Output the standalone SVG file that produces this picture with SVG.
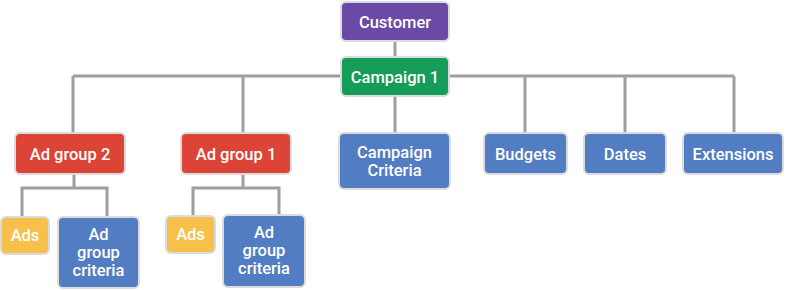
<svg xmlns="http://www.w3.org/2000/svg" width="785" height="290" viewBox="0 0 785 290">
<style>
.b{stroke:#dcdcdc;stroke-width:2}
.p{fill:#6a4aa5}.g{fill:#159c59}.r{fill:#dc4437}.u{fill:#527dc3}.y{fill:#f6c04b}
text{font-family:Roboto,"Liberation Sans",sans-serif;font-weight:500;font-size:16.5px;fill:#fff;text-anchor:middle;dominant-baseline:central}
.c line,.c polyline{stroke:#9e9e9e;stroke-width:3;fill:none}
</style>
<rect width="785" height="290" fill="#fff"/>
<g class="c" id="connectors">
<line x1="395" y1="41" x2="395" y2="57"/>
<line x1="73" y1="76" x2="734" y2="76"/>
<line x1="73" y1="76" x2="73" y2="133"/>
<line x1="243" y1="76" x2="243" y2="133"/>
<line x1="395" y1="96" x2="395" y2="133"/>
<line x1="525" y1="76" x2="525" y2="133"/>
<line x1="625" y1="76" x2="625" y2="133"/>
<line x1="734" y1="76" x2="734" y2="133"/>
<line x1="74" y1="174" x2="74" y2="188"/>
<polyline points="22,217 22,188 107,188 107,216"/>
<line x1="243" y1="174" x2="243" y2="188"/>
<polyline points="193,216 193,188 279,188 279,215"/>
</g>
<g id="customer"><rect class="b p" x="341" y="2" width="108" height="39" rx="5"/><text x="395" y="22">Customer</text></g>
<g id="campaign1"><rect class="b g" x="341" y="57" width="108" height="39" rx="5"/><text x="395" y="77">Campaign 1</text></g>
<g id="adgroup2"><rect class="b r" x="15" y="133" width="110" height="41" rx="5"/><text x="70" y="154">Ad group 2</text></g>
<g id="adgroup1"><rect class="b r" x="181" y="133" width="110" height="41" rx="5"/><text x="236" y="154">Ad group 1</text></g>
<g id="campaigncriteria"><rect class="b u" x="339" y="133" width="111" height="56" rx="5"/><text x="394.5" y="152">Campaign</text><text x="394.5" y="170">Criteria</text></g>
<g id="budgets"><rect class="b u" x="484" y="133" width="83" height="41" rx="5"/><text x="525.5" y="154">Budgets</text></g>
<g id="dates"><rect class="b u" x="584" y="133" width="82" height="41" rx="5"/><text x="625" y="154">Dates</text></g>
<g id="extensions"><rect class="b u" x="683" y="133" width="100" height="41" rx="5"/><text x="733" y="154">Extensions</text></g>
<g id="ads2"><rect class="b y" x="1" y="217" width="48" height="37" rx="5"/><text x="25" y="235.5">Ads</text></g>
<g id="adgroupcriteria2"><rect class="b u" x="58" y="217" width="81" height="71" rx="5"/><text x="98.5" y="234">Ad</text><text x="98.5" y="252">group</text><text x="98.5" y="270">criteria</text></g>
<g id="ads1"><rect class="b y" x="166" y="216" width="49" height="37" rx="5"/><text x="190.5" y="234.5">Ads</text></g>
<g id="adgroupcriteria1"><rect class="b u" x="223" y="215" width="82" height="72" rx="5"/><text x="264" y="232">Ad</text><text x="264" y="250">group</text><text x="264" y="268">criteria</text></g>
</svg>
